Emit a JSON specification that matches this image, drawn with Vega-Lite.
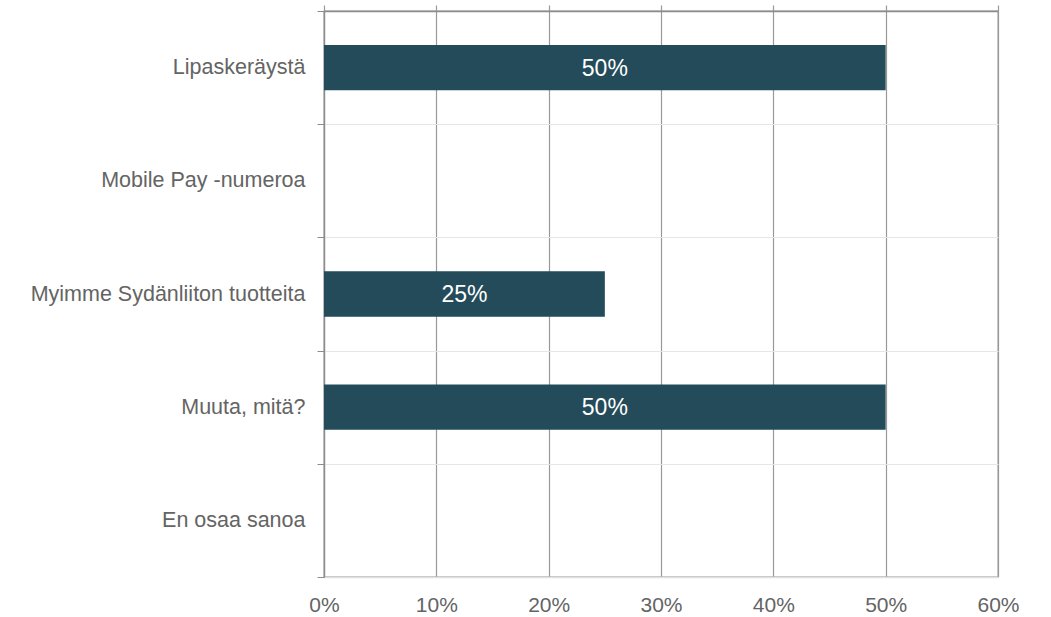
{
  "$schema": "https://vega.github.io/schema/vega-lite/v6.json",
  "autosize": "none",
  "padding": {"left": 324, "top": 11, "right": 53, "bottom": 40},
  "width": 674,
  "height": 566,
  "background": "white",
  "config": {
    "font": "Liberation Sans",
    "view": {"stroke": "#8c8c8c", "strokeWidth": 1.3}
  },
  "data": {
    "values": [
      {"kategoria": "Lipaskeräystä", "osuus": 0.5},
      {"kategoria": "Mobile Pay -numeroa", "osuus": 0},
      {"kategoria": "Myimme Sydänliiton tuotteita", "osuus": 0.25},
      {"kategoria": "Muuta, mitä?", "osuus": 0.5},
      {"kategoria": "En osaa sanoa", "osuus": 0}
    ]
  },
  "encoding": {
    "y": {
      "field": "kategoria",
      "type": "nominal",
      "sort": null,
      "scale": {"paddingInner": 0, "paddingOuter": 0},
      "axis": {
        "title": null,
        "tickBand": "extent",
        "grid": true,
        "gridColor": "#e6e6e6",
        "gridWidth": 1.2,
        "domainColor": "#8c8c8c",
        "domainWidth": 1.3,
        "tickColor": "#8c8c8c",
        "tickSize": 7,
        "labelFontSize": 21.5,
        "labelColor": "#646464",
        "labelPadding": 12,
        "labelLimit": 400
      }
    }
  },
  "layer": [
    {
      "mark": {"type": "bar", "color": "#234b5a", "height": {"band": 0.4}},
      "encoding": {
        "x": {
          "field": "osuus",
          "type": "quantitative",
          "scale": {"domain": [0, 0.6], "nice": false},
          "axis": {
            "title": null,
            "format": ".0%",
            "values": [0, 0.1, 0.2, 0.3, 0.4, 0.5, 0.6],
            "grid": true,
            "gridColor": "#999999",
            "gridWidth": 1.2,
            "domainColor": "#e0e0e0",
            "domainWidth": 1.3,
            "ticks": false,
            "labelFontSize": 21,
            "labelColor": "#646464",
            "labelPadding": 17,
            "labelFlush": false
          }
        }
      }
    },
    {
      "transform": [{"filter": "datum.osuus > 0"}],
      "mark": {"type": "text", "color": "white", "fontSize": 23, "baseline": "middle", "align": "center", "dy": 1},
      "encoding": {
        "x": {
          "field": "osuus",
          "type": "quantitative",
          "scale": {"domain": [0, 1.2], "nice": false},
          "axis": null
        },
        "text": {"field": "osuus", "type": "quantitative", "format": ".0%"}
      }
    },
    {
      "mark": {"type": "rule", "opacity": 0},
      "encoding": {
        "x": {
          "field": "osuus",
          "type": "quantitative",
          "scale": {"domain": [0, 0.6], "nice": false},
          "axis": {
            "orient": "top",
            "title": null,
            "labels": false,
            "labelOpacity": 0,
            "grid": false,
            "values": [0, 0.1, 0.2, 0.3, 0.4, 0.5, 0.6],
            "tickSize": 6,
            "tickColor": "#999999",
            "tickWidth": 1.2,
            "domainColor": "#8c8c8c",
            "domainWidth": 1.3
          }
        }
      }
    }
  ],
  "resolve": {"scale": {"x": "independent"}, "axis": {"x": "independent"}}
}
